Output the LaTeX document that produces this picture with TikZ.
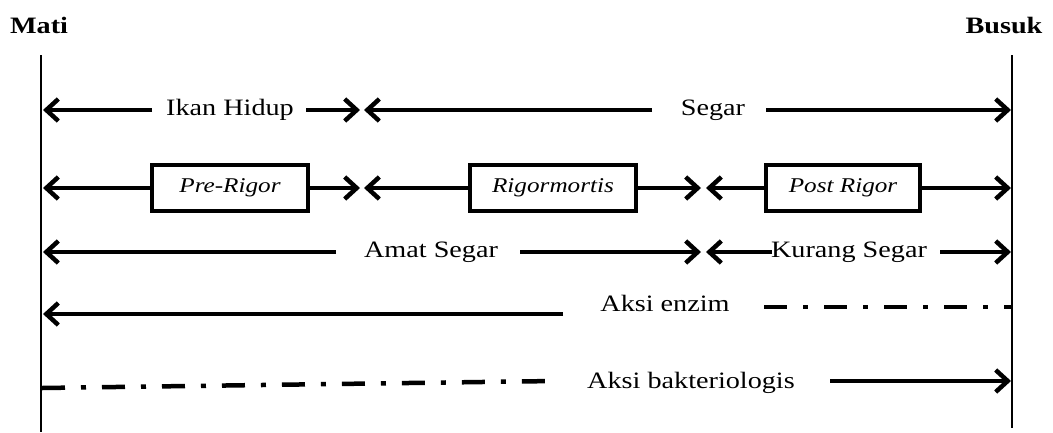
\documentclass[tikz,border=0pt]{standalone}
\usepackage{fontspec}
\setmainfont[FakeStretch=1.2]{Liberation Serif}
\usetikzlibrary{arrows.meta}
\tikzset{
  lbl/.style={font=\fontsize{23.5}{28}\selectfont, inner sep=0pt, anchor=center},
  ttl/.style={font=\fontsize{23.5}{28}\selectfont\bfseries, inner sep=0pt},
  stagebox/.style={draw, line width=3.5pt, font=\fontsize{21}{26}\selectfont\itshape, minimum height=46pt, inner sep=0pt},
  arr/.style={line width=4pt, -{Straight Barb[length=12pt,width=22pt,line width=4.5pt]}},
  dashdot/.style={line width=4.5pt, dash pattern=on 23pt off 16pt on 5pt off 16pt},
  axis/.style={line width=1.3pt}
}
\begin{document}
\begin{tikzpicture}[x=1pt,y=-1pt]
\useasboundingbox (0,0) rectangle (1053,432);
% titles
\node[ttl] (mati) at (39,25) {Mati};
\node[ttl] (busuk) at (1004,25) {Busuk};
% vertical axes
\coordinate (ltop) at (41,55);
\coordinate (lbot) at (41,432);
\coordinate (rtop) at (1012,55);
\coordinate (rbot) at (1012,428);
\draw[axis] (ltop) -- (lbot);
\draw[axis] (rtop) -- (rbot);
% row 1
\node[lbl] (ikan) at (230,110) {Ikan Hidup};
\node[lbl] (segar) at (713,110) {Segar};
\coordinate (r1a) at (152,110);
\coordinate (r1L) at (43,110);
\coordinate (r1b) at (306,110);
\coordinate (r1m) at (360,110);
\coordinate (r1m2) at (364,110);
\coordinate (r1c) at (652,110);
\coordinate (r1d) at (766,110);
\coordinate (r1R) at (1011,110);
\draw[arr] (r1a) -- (r1L);
\draw[arr] (r1b) -- (r1m);
\draw[arr] (r1c) -- (r1m2);
\draw[arr] (r1d) -- (r1R);
% row 2
\node[stagebox, minimum width=156pt] (pre) at (230,188) {Pre-Rigor};
\node[stagebox, minimum width=166pt] (rig) at (553,188) {Rigormortis};
\node[stagebox, minimum width=154pt] (post) at (843,188) {Post Rigor};
\coordinate (r2L) at (43,188);
\coordinate (r2m) at (360,188);
\coordinate (r2m2) at (364,188);
\coordinate (r2n) at (701,188);
\coordinate (r2n2) at (706,188);
\coordinate (r2R) at (1011,188);
\draw[arr] (pre.west) -- (r2L);
\draw[arr] (pre.east) -- (r2m);
\draw[arr] (rig.west) -- (r2m2);
\draw[arr] (rig.east) -- (r2n);
\draw[arr] (post.west) -- (r2n2);
\draw[arr] (post.east) -- (r2R);
% row 3
\node[lbl] (amat) at (431,252) {Amat Segar};
\node[lbl] (kurang) at (849,252) {Kurang Segar};
\coordinate (r3a) at (336,252);
\coordinate (r3L) at (43,252);
\coordinate (r3b) at (520,252);
\coordinate (r3m) at (701,252);
\coordinate (r3m2) at (706,252);
\coordinate (r3c) at (772,252);
\coordinate (r3d) at (940,252);
\coordinate (r3R) at (1011,252);
\draw[arr] (r3a) -- (r3L);
\draw[arr] (r3b) -- (r3m);
\draw[arr] (r3c) -- (r3m2);
\draw[arr] (r3d) -- (r3R);
% row 4
\node[lbl] (enzim) at (665,303) {Aksi enzim};
\coordinate (r4a) at (563,314);
\coordinate (r4L) at (43,314);
\coordinate (r4b) at (764,307);
\coordinate (r4R) at (1012,307);
\draw[arr] (r4a) -- (r4L);
\draw[dashdot] (r4b) -- (r4R);
% row 5
\node[lbl] (bakteri) at (691,383) {Aksi bakteriologis};
\coordinate (r5L) at (42,388);
\coordinate (r5a) at (555,381);
\coordinate (r5b) at (830,381);
\coordinate (r5R) at (1011,381);
\draw[dashdot] (r5L) -- (r5a);
\draw[arr] (r5b) -- (r5R);
\end{tikzpicture}
\end{document}
